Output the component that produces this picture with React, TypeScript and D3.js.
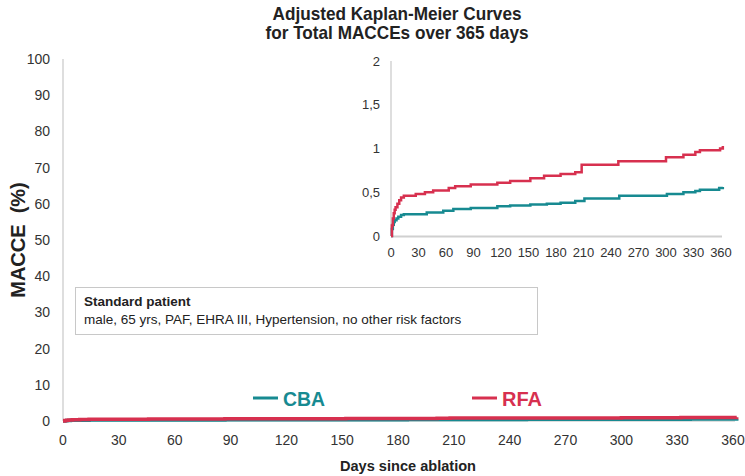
import React from "react";
import * as d3 from "d3";

const xTicks = [0, 30, 60, 90, 120, 150, 180, 210, 240, 270, 300, 330, 360];
const mainYTicks = [0, 10, 20, 30, 40, 50, 60, 70, 80, 90, 100];
const insetYTicks = [0, 0.5, 1, 1.5, 2];

const cbaDays = [0, 1, 2, 3, 4, 6, 8, 11, 14, 39, 57, 68, 87, 116, 130, 152, 170, 185, 201, 211, 249, 301, 319, 332, 337, 358, 362];
const cbaVals = [0, 0.08, 0.13, 0.16, 0.18, 0.2, 0.22, 0.24, 0.25, 0.27, 0.29, 0.31, 0.32, 0.34, 0.35, 0.36, 0.37, 0.38, 0.4, 0.43, 0.46, 0.48, 0.5, 0.515, 0.53, 0.55, 0.56];

const rfaDays = [0, 1, 2, 3, 4, 5, 7, 9, 11, 14, 27, 37, 46, 63, 70, 87, 116, 130, 152, 167, 185, 201, 208, 248, 300, 319, 332, 337, 359, 362];
const rfaVals = [0, 0.12, 0.2, 0.26, 0.3, 0.33, 0.37, 0.41, 0.44, 0.46, 0.48, 0.5, 0.52, 0.55, 0.57, 0.59, 0.61, 0.63, 0.66, 0.69, 0.71, 0.73, 0.815, 0.855, 0.9, 0.93, 0.96, 0.98, 1.0, 1.03];

const CBA_COLOR = "#178a91";
const RFA_COLOR = "#d7304f";
const SANS = "'Liberation Sans', Arial, Helvetica, sans-serif";

type Pt = { d: number; v: number };
const cba: Pt[] = cbaDays.map((d, i) => ({ d, v: cbaVals[i] }));
const rfa: Pt[] = rfaDays.map((d, i) => ({ d, v: rfaVals[i] }));

export default function App() {
  const W = 745, H = 476;
  const x = d3.scaleLinear().domain([0, 360]).range([63, 733]);
  const y = d3.scaleLinear().domain([0, 100]).range([421, 59]);
  const xi = d3.scaleLinear().domain([0, 360]).range([391, 721]);
  const yi = d3.scaleLinear().domain([0, 2]).range([236, 61]);

  const mainLine = d3.line<Pt>().x(p => x(p.d)).y(p => y(p.v)).curve(d3.curveStepAfter);
  const insetLine = d3.line<Pt>().x(p => xi(p.d)).y(p => yi(p.v)).curve(d3.curveStepAfter);

  return (
    <svg width={W} height={H} style={{ position: "absolute", left: 0, top: 0, background: "#fff" }}>
      <rect x={0} y={0} width={W} height={H} fill="#fff" />
      {/* title */}
      <text x={397} y={20} textAnchor="middle" fontFamily={SANS} fontWeight="bold" fontSize={19} textLength={249} lengthAdjust="spacingAndGlyphs" fill="#222">Adjusted Kaplan-Meier Curves</text>
      <text x={397} y={39} textAnchor="middle" fontFamily={SANS} fontWeight="bold" fontSize={19} textLength={263} lengthAdjust="spacingAndGlyphs" fill="#222">for Total MACCEs over 365 days</text>

      {/* main axes */}
      <line x1={63} x2={63} y1={59} y2={421} stroke="#bdbdbd" strokeWidth={1} />
      <line x1={63} x2={735} y1={421} y2={421} stroke="#bdbdbd" strokeWidth={1} />
      {mainYTicks.map(t => (
        <text key={t} x={50} y={y(t)} dy="0.35em" textAnchor="end" fontFamily={SANS} fontSize={14} fill="#333">{t}</text>
      ))}
      {xTicks.map(t => (
        <text key={t} x={x(t)} y={440} dy="0.35em" textAnchor="middle" fontFamily={SANS} fontSize={14} fill="#333">{t}</text>
      ))}
      <text transform="translate(25,240) rotate(-90)" textAnchor="middle" fontFamily={SANS} fontWeight="bold" fontSize={20} fill="#222">{"MACCE\u00a0\u00a0(%)"}</text>
      <text x={408} y={471} textAnchor="middle" fontFamily={SANS} fontWeight="bold" fontSize={15} textLength={136} lengthAdjust="spacingAndGlyphs" fill="#222">Days since ablation</text>

      {/* main curves */}
      <path d={mainLine(cba) || ""} fill="none" stroke={CBA_COLOR} strokeWidth={3.5} />
      <path d={mainLine(rfa) || ""} fill="none" stroke={RFA_COLOR} strokeWidth={3.5} />

      {/* legend */}
      <line x1={253} x2={278} y1={398} y2={398} stroke={CBA_COLOR} strokeWidth={3} />
      <text x={283} y={398} dy="0.36em" fontFamily={SANS} fontWeight="bold" fontSize={21} textLength={42} lengthAdjust="spacingAndGlyphs" fill={CBA_COLOR}>CBA</text>
      <line x1={472} x2={497} y1={398} y2={398} stroke={RFA_COLOR} strokeWidth={3} />
      <text x={502} y={398} dy="0.36em" fontFamily={SANS} fontWeight="bold" fontSize={21} textLength={40} lengthAdjust="spacingAndGlyphs" fill={RFA_COLOR}>RFA</text>

      {/* patient box */}
      <rect x={75.5} y={287.5} width={462} height={47} fill="#fff" stroke="#c8c8c8" strokeWidth={1} />
      <text x={84} y={306} fontFamily={SANS} fontWeight="bold" fontSize={13.5} fill="#222">Standard patient</text>
      <text x={84} y={324} fontFamily={SANS} fontSize={13.5} fill="#222">male, 65 yrs, PAF, EHRA III, Hypertension, no other risk factors</text>

      {/* inset */}
      <line x1={391} x2={391} y1={61} y2={236} stroke="#bdbdbd" strokeWidth={1} />
      <line x1={391} x2={722} y1={236.5} y2={236.5} stroke="#d0d0d0" strokeWidth={2} />
      {insetYTicks.map(t => (
        <text key={t} x={380} y={yi(t)} dy="0.35em" textAnchor="end" fontFamily={SANS} fontSize={13} fill="#333">{String(t).replace(".", ",")}</text>
      ))}
      {xTicks.map(t => (
        <text key={t} x={xi(t)} y={252} dy="0.35em" textAnchor="middle" fontFamily={SANS} fontSize={13} fill="#333">{t}</text>
      ))}
      <path d={insetLine(cba) || ""} fill="none" stroke={CBA_COLOR} strokeWidth={2.5} />
      <path d={insetLine(rfa) || ""} fill="none" stroke={RFA_COLOR} strokeWidth={2.5} />
    </svg>
  );
}
